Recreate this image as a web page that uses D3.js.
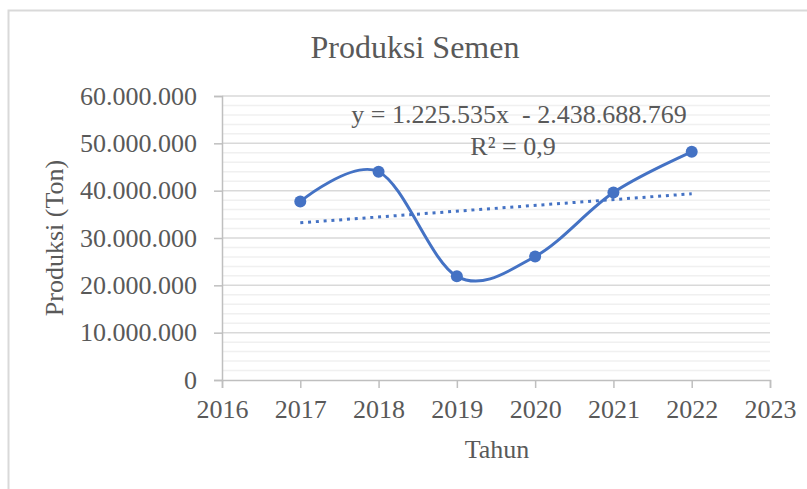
<html>
<head>
    <style>
        body { margin: 0; background-color: white; }
        #chart { width: 807px; height: 489px; }
        text { font-family: "Liberation Serif", "Times New Roman", serif; fill: #595959; }
    </style>
</head>
<body>
    <div id="chart"></div>
    <script src="https://cdn.jsdelivr.net/npm/d3@7"></script>
    <script>
        const years = [2017, 2018, 2019, 2020, 2021, 2022];
        const produksi = [37700000, 44000000, 21900000, 26100000, 39600000, 48200000];
        const yTicks = [0, 10000000, 20000000, 30000000, 40000000, 50000000, 60000000];
        const xTicks = [2016, 2017, 2018, 2019, 2020, 2021, 2022, 2023];
        const slope = 1225535;
        const intercept = -2438688769;

        const width = 807, height = 489;
        const margin = { top: 96, right: 37, bottom: 109, left: 222 };
        const blue = '#4472C4';

        const svg = d3.select('#chart').append('svg')
            .attr('width', width)
            .attr('height', height);

        // chart frame
        svg.append('rect')
            .attr('x', 8.5).attr('y', 10.5)
            .attr('width', width).attr('height', height)
            .attr('fill', 'none').attr('stroke', '#d9d9d9').attr('stroke-width', 2);

        const x = d3.scaleLinear().domain([2016, 2023]).range([margin.left, width - margin.right]);
        const y = d3.scaleLinear().domain([0, 60000000]).range([height - margin.bottom, margin.top]);

        const fmt = d => d === 0 ? '0' : d3.format(',')(d).replace(/,/g, '.');

        // minor gridlines
        svg.append('g')
            .selectAll('line')
            .data(d3.range(0, 60000001, 2000000).filter(v => v % 10000000 !== 0))
            .enter().append('line')
            .attr('x1', x(2016)).attr('x2', x(2023))
            .attr('y1', d => y(d)).attr('y2', d => y(d))
            .attr('stroke', '#f0f0f0').attr('stroke-width', 1.5);

        // major gridlines
        svg.append('g')
            .selectAll('line')
            .data(yTicks.filter(v => v > 0))
            .enter().append('line')
            .attr('x1', x(2016)).attr('x2', x(2023))
            .attr('y1', d => y(d)).attr('y2', d => y(d))
            .attr('stroke', '#d9d9d9').attr('stroke-width', 1.5);

        // axes
        const yAxis = svg.append('g')
            .attr('transform', `translate(${x(2016)},0)`)
            .call(d3.axisLeft(y).tickValues(yTicks).tickFormat(fmt).tickSize(8).tickPadding(17));
        const xAxis = svg.append('g')
            .attr('transform', `translate(0,${y(0)})`)
            .call(d3.axisBottom(x).tickValues(xTicks).tickFormat(d3.format('d')).tickSize(8).tickPadding(12));

        [yAxis, xAxis].forEach(a => {
            a.select('.domain').attr('stroke', '#bfbfbf').attr('stroke-width', 1.5);
            a.selectAll('.tick line').attr('stroke', '#bfbfbf').attr('stroke-width', 1.5);
            a.selectAll('text').style('font-size', '26px').attr('fill', '#595959')
                .style('font-family', '"Liberation Serif", serif');
        });

        // trendline
        svg.append('line')
            .attr('x1', x(years[0])).attr('x2', x(years[years.length - 1]))
            .attr('y1', y(slope * years[0] + intercept))
            .attr('y2', y(slope * years[years.length - 1] + intercept))
            .attr('stroke', blue).attr('stroke-width', 3)
            .attr('stroke-dasharray', '3,4.8');

        // smoothed series line
        const data = years.map((yr, i) => ({ year: yr, value: produksi[i] }));
        const line = d3.line()
            .x(d => x(d.year))
            .y(d => y(d.value))
            .curve(d3.curveCardinal.tension(0));

        svg.append('path')
            .datum(data)
            .attr('d', line)
            .attr('fill', 'none')
            .attr('stroke', blue)
            .attr('stroke-width', 3);

        svg.selectAll('.dot')
            .data(data)
            .enter().append('circle')
            .attr('class', 'dot')
            .attr('cx', d => x(d.year))
            .attr('cy', d => y(d.value))
            .attr('r', 6)
            .attr('fill', blue);

        // titles
        svg.append('text')
            .attr('x', 415).attr('y', 58)
            .attr('text-anchor', 'middle')
            .style('font-size', '32px')
            .text('Produksi Semen');

        svg.append('text')
            .attr('x', 497).attr('y', 458)
            .attr('text-anchor', 'middle')
            .style('font-size', '26px')
            .text('Tahun');

        svg.append('text')
            .attr('transform', 'translate(63,238) rotate(-90)')
            .attr('text-anchor', 'middle')
            .style('font-size', '26px')
            .text('Produksi (Ton)');

        // trendline label
        svg.append('text')
            .attr('x', 519).attr('y', 123)
            .attr('text-anchor', 'middle')
            .style('font-size', '26px')
            .attr('xml:space', 'preserve')
            .text('y = 1.225.535x  - 2.438.688.769');

        svg.append('text')
            .attr('x', 513).attr('y', 155)
            .attr('text-anchor', 'middle')
            .style('font-size', '26px')
            .text('R² = 0,9');
    </script>
</body>
</html>
